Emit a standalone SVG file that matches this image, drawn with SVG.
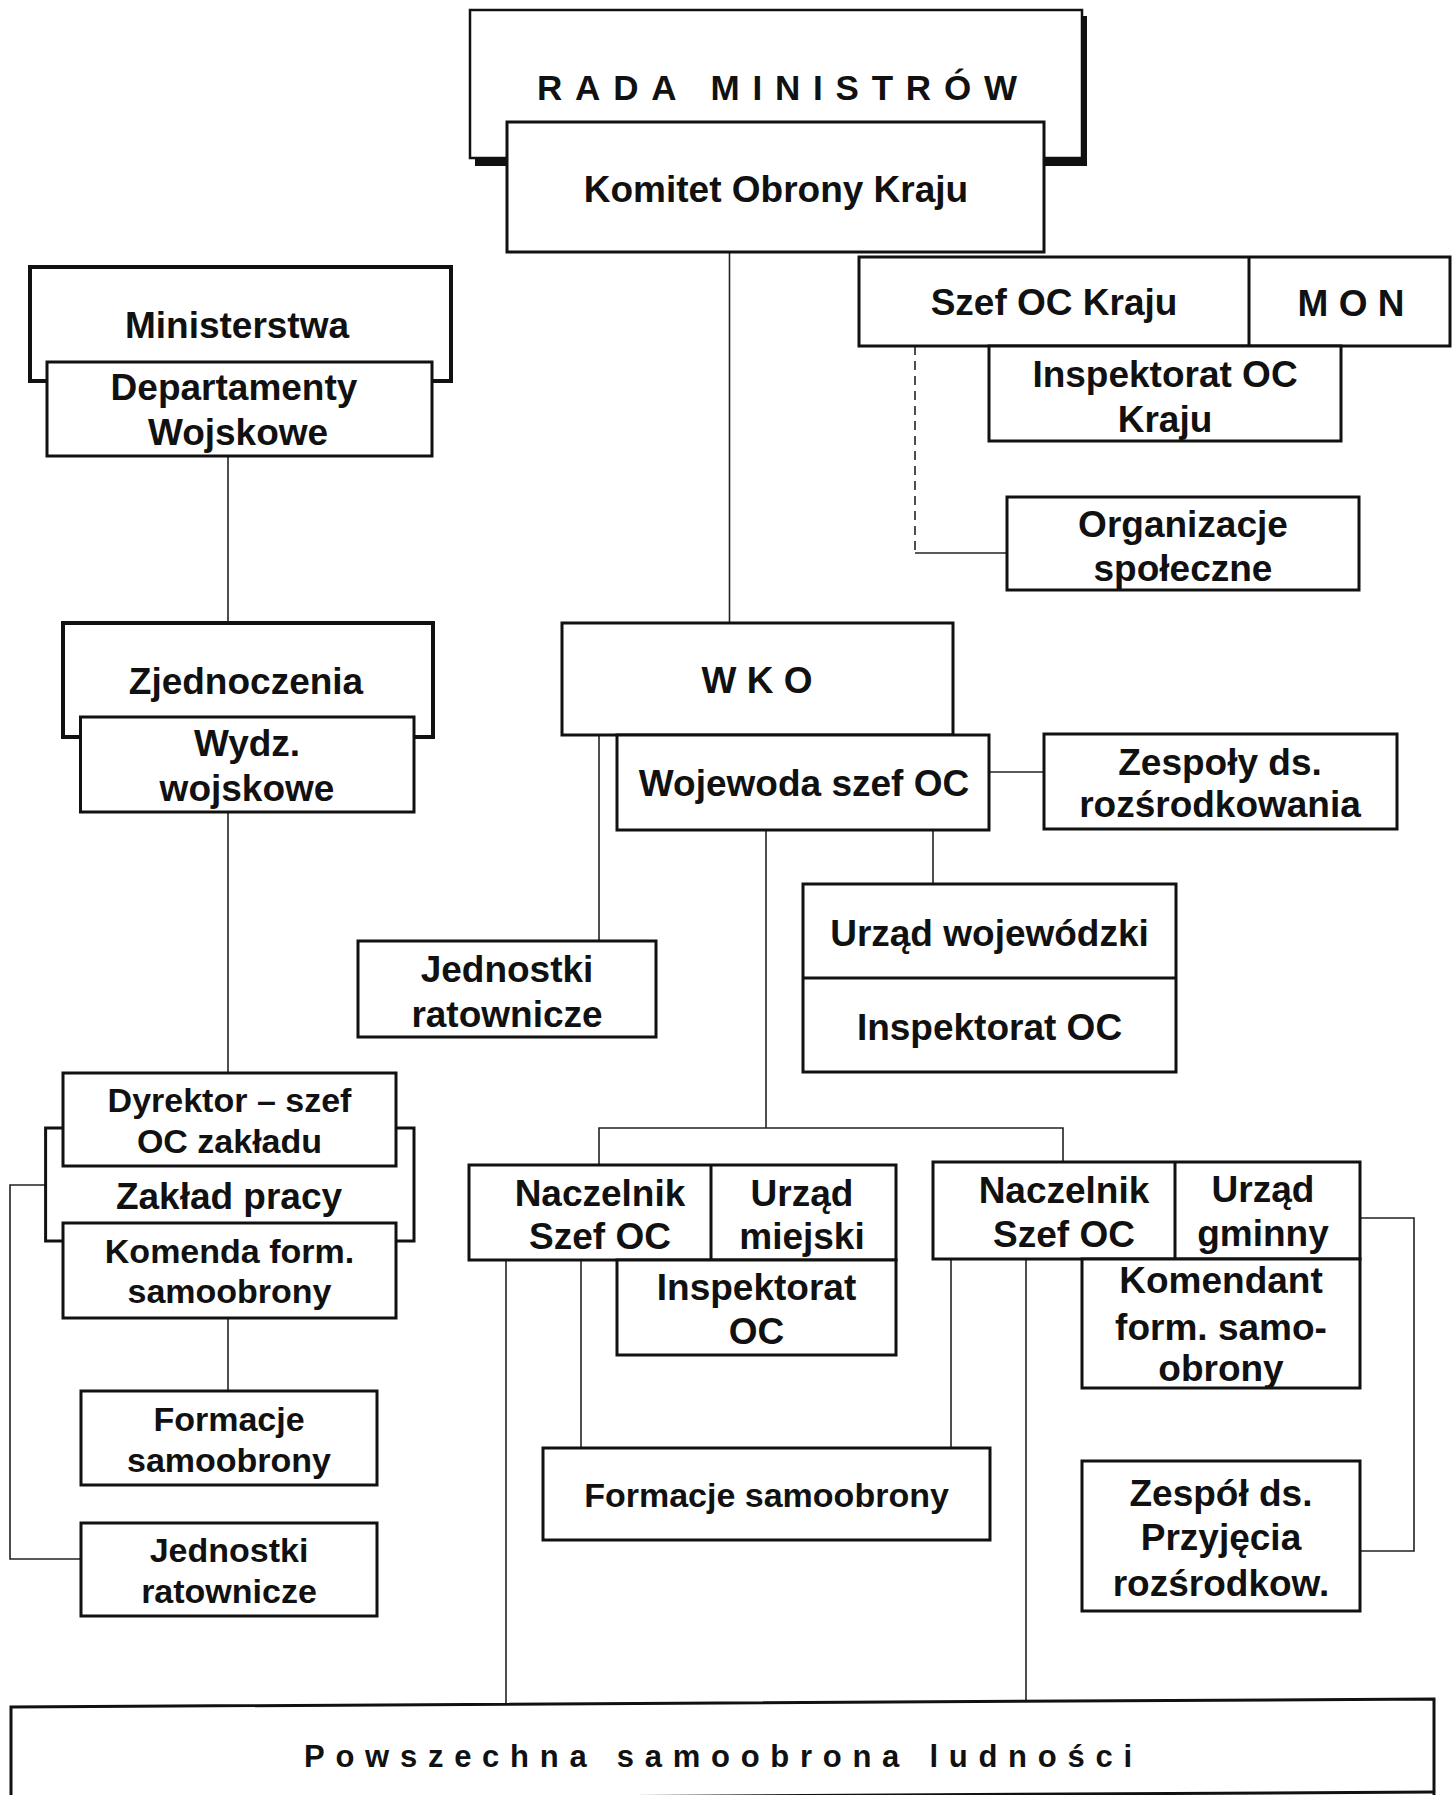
<svg xmlns="http://www.w3.org/2000/svg" width="1453" height="1795" viewBox="0 0 1453 1795">
  <style>
    .box { fill: #fff; stroke: #111; stroke-width: 3; }
    .heavy { stroke-width: 4; }
    .ln { fill: none; stroke: #222; stroke-width: 1.6; }
    .dash { stroke-dasharray: 9 6; }
    .t { font-family: "Liberation Sans", Arial, sans-serif; font-weight: bold; font-size: 37px; text-anchor: middle; fill: #111; }
    .s { font-size: 34px; }
    .sp { text-anchor: start; }
  </style>
  <rect width="1453" height="1795" fill="#fff"/>

  <!-- connectors -->
  <g id="connectors">
    <line class="ln" x1="729.5" y1="252" x2="729.5" y2="623"/>
    <line class="ln dash" x1="915" y1="346" x2="915" y2="553"/>
    <line class="ln" x1="915" y1="553" x2="1007" y2="553"/>
    <line class="ln" x1="228" y1="456" x2="228" y2="623"/>
    <line class="ln" x1="228" y1="812" x2="228" y2="1073"/>
    <line class="ln" x1="228" y1="1318" x2="228" y2="1391"/>
    <polyline class="ln" points="45.6,1185 10,1185 10,1559 81,1559"/>
    <line class="ln" x1="599" y1="735" x2="599" y2="941"/>
    <line class="ln" x1="989" y1="772" x2="1044" y2="772"/>
    <line class="ln" x1="933" y1="830" x2="933" y2="884"/>
    <line class="ln" x1="766" y1="830" x2="766" y2="1128"/>
    <polyline class="ln" points="599,1165 599,1128 1063,1128 1063,1162"/>
    <line class="ln" x1="506" y1="1260" x2="506" y2="1708"/>
    <line class="ln" x1="581" y1="1260" x2="581" y2="1448"/>
    <line class="ln" x1="951" y1="1259" x2="951" y2="1448"/>
    <line class="ln" x1="1026" y1="1259" x2="1026" y2="1700"/>
    <polyline class="ln" points="1360,1218 1414,1218 1414,1551 1360,1551"/>
  </g>

  <!-- Rada Ministrów with shadow, Komitet Obrony Kraju in front -->
  <g id="rada-ministrow">
    <rect x="475" y="16" width="612" height="150" fill="#111"/>
    <rect class="box" x="470" y="10" width="612" height="148" style="stroke-width:2.5"/>
    <text class="t sp" x="537" y="100" style="font-size:35px" textLength="480" lengthAdjust="spacing">RADA  MINISTRÓW</text>
  </g>
  <g id="komitet-obrony-kraju">
    <rect class="box" x="507" y="122" width="537" height="130"/>
    <text class="t" x="776" y="202">Komitet Obrony Kraju</text>
  </g>

  <g id="szef-oc-kraju">
    <rect class="box" x="859" y="257" width="591" height="89"/>
    <line x1="1249" y1="257" x2="1249" y2="346" stroke="#111" stroke-width="3"/>
    <text class="t" x="1054" y="315">Szef OC Kraju</text>
    <text class="t" x="1351" y="316">M O N</text>
  </g>
  <g id="inspektorat-oc-kraju">
    <rect class="box" x="989" y="346" width="352" height="95"/>
    <text class="t" x="1165" y="387">Inspektorat OC</text>
    <text class="t" x="1165" y="432">Kraju</text>
  </g>
  <g id="organizacje-spoleczne">
    <rect class="box" x="1007" y="497" width="352" height="93"/>
    <text class="t" x="1183" y="537">Organizacje</text>
    <text class="t" x="1183" y="581">społeczne</text>
  </g>

  <g id="ministerstwa">
    <rect class="box heavy" x="30" y="267" width="421" height="114"/>
    <text class="t" x="237" y="338">Ministerstwa</text>
  </g>
  <g id="departamenty-wojskowe">
    <rect class="box" x="47" y="362" width="385" height="94"/>
    <text class="t" x="234" y="400">Departamenty</text>
    <text class="t" x="238" y="445">Wojskowe</text>
  </g>

  <g id="zjednoczenia">
    <rect class="box heavy" x="63" y="623" width="370" height="114"/>
    <text class="t" x="246" y="694">Zjednoczenia</text>
  </g>
  <g id="wydz-wojskowe">
    <rect class="box" x="80.5" y="717" width="333.5" height="95"/>
    <text class="t" x="247" y="756">Wydz.</text>
    <text class="t" x="247" y="801">wojskowe</text>
  </g>

  <g id="wko">
    <rect class="box" x="562" y="623" width="391" height="112"/>
    <text class="t" x="757" y="693">W K O</text>
  </g>
  <g id="wojewoda">
    <rect class="box" x="617" y="735" width="372" height="95"/>
    <text class="t" x="804" y="796">Wojewoda szef OC</text>
  </g>
  <g id="zespoly-rozsrodkowania">
    <rect class="box" x="1044" y="734" width="353" height="95"/>
    <text class="t" x="1220" y="775">Zespoły ds.</text>
    <text class="t" x="1220" y="817">rozśrodkowania</text>
  </g>
  <g id="jednostki-ratownicze-woj">
    <rect class="box" x="358" y="941" width="298" height="96"/>
    <text class="t" x="507" y="982">Jednostki</text>
    <text class="t" x="507" y="1027">ratownicze</text>
  </g>
  <g id="urzad-wojewodzki">
    <rect class="box" x="803" y="884" width="373" height="188"/>
    <line x1="803" y1="978" x2="1176" y2="978" stroke="#111" stroke-width="3"/>
    <text class="t" x="989.5" y="946">Urząd wojewódzki</text>
    <text class="t" x="989.5" y="1040">Inspektorat OC</text>
  </g>

  <!-- enterprise level -->
  <g id="zaklad-pracy">
    <rect class="box" x="45.6" y="1128" width="368.4" height="113"/>
    <text class="t" x="229" y="1209">Zakład pracy</text>
  </g>
  <g id="dyrektor">
    <rect class="box" x="63" y="1073" width="333" height="93"/>
    <text class="t s" x="229.5" y="1112">Dyrektor – szef</text>
    <text class="t s" x="229.5" y="1153">OC zakładu</text>
  </g>
  <g id="komenda-form">
    <rect class="box" x="63" y="1223" width="333" height="95"/>
    <text class="t s" x="229.5" y="1263">Komenda form.</text>
    <text class="t s" x="229.5" y="1303">samoobrony</text>
  </g>
  <g id="formacje-zakladu">
    <rect class="box" x="81" y="1391" width="296" height="94"/>
    <text class="t s" x="229" y="1431">Formacje</text>
    <text class="t s" x="229" y="1472">samoobrony</text>
  </g>
  <g id="jednostki-ratownicze-zakladu">
    <rect class="box" x="81" y="1523" width="296" height="93"/>
    <text class="t s" x="229" y="1562">Jednostki</text>
    <text class="t s" x="229" y="1603">ratownicze</text>
  </g>

  <!-- town level -->
  <g id="naczelnik-miasto">
    <rect class="box" x="469" y="1165" width="427" height="95"/>
    <line x1="711" y1="1165" x2="711" y2="1260" stroke="#111" stroke-width="3"/>
    <text class="t" x="600" y="1206">Naczelnik</text>
    <text class="t" x="600" y="1249">Szef OC</text>
    <text class="t" x="802" y="1206">Urząd</text>
    <text class="t" x="802" y="1249">miejski</text>
  </g>
  <g id="inspektorat-oc-miasto">
    <rect class="box" x="617" y="1260" width="279" height="95"/>
    <text class="t" x="756.5" y="1300">Inspektorat</text>
    <text class="t" x="756.5" y="1344">OC</text>
  </g>
  <g id="formacje-samoobrony">
    <rect class="box" x="543" y="1448" width="447" height="92"/>
    <text class="t s" x="766.5" y="1507">Formacje samoobrony</text>
  </g>

  <!-- commune level -->
  <g id="naczelnik-gmina">
    <rect class="box" x="933" y="1162" width="427" height="97"/>
    <line x1="1175" y1="1162" x2="1175" y2="1259" stroke="#111" stroke-width="3"/>
    <text class="t" x="1064" y="1203">Naczelnik</text>
    <text class="t" x="1064" y="1247">Szef OC</text>
    <text class="t" x="1263" y="1202">Urząd</text>
    <text class="t" x="1263" y="1246">gminny</text>
  </g>
  <g id="komendant-form">
    <rect class="box" x="1082" y="1259" width="278" height="129"/>
    <text class="t" x="1221" y="1293">Komendant</text>
    <text class="t" x="1221" y="1340">form. samo-</text>
    <text class="t" x="1221" y="1381">obrony</text>
  </g>
  <g id="zespol-przyjecia">
    <rect class="box" x="1082" y="1461" width="278" height="150"/>
    <text class="t" x="1221" y="1506">Zespół ds.</text>
    <text class="t" x="1221" y="1550">Przyjęcia</text>
    <text class="t" x="1221" y="1596">rozśrodkow.</text>
  </g>

  <g id="powszechna-samoobrona">
    <path class="box" d="M11,1805 L11,1707 L1434,1699 L1434,1805" style="fill:#fff"/>
    <line x1="11" y1="1800" x2="1434" y2="1792" stroke="#111" stroke-width="3"/>
    <text class="t sp" x="304" y="1767" style="font-size:31px" textLength="828" lengthAdjust="spacing">Powszechna samoobrona ludności</text>
  </g>
</svg>
